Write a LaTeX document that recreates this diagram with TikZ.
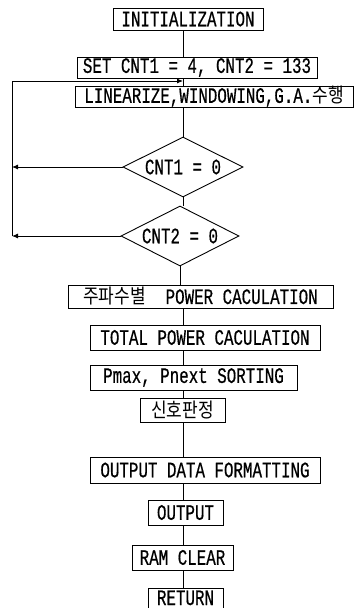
\documentclass[tikz,border=0pt]{standalone}
\usepackage{fontspec}
\setmonofont[FakeStretch=0.72,FakeBold=0.5]{Liberation Mono}
\newfontfamily\krfont[FakeStretch=0.85]{Noto Sans CJK KR}
\newcommand\kr[1]{{\krfont\fontsize{20}{20}\selectfont #1}}
\usetikzlibrary{shapes.geometric,arrows.meta}
\begin{document}
\begin{tikzpicture}[x=1pt,y=-1pt,
  font=\ttfamily\fontsize{22}{22}\selectfont,
  line width=0.9pt,
  pbox/.style={draw, inner sep=0pt, minimum height=#1},
  pbox/.default=24pt,
  dec/.style={draw, diamond, aspect=2, inner sep=0pt, minimum width=120pt, minimum height=60pt},
  arr/.style={-{Latex[length=6pt,width=5pt]}}
]
\useasboundingbox (0,0) rectangle (357,608);
\node[pbox=22pt, minimum width=150pt] (init) at (188,19) {INITIALIZATION};
\node[pbox=21pt, minimum width=240pt] (set) at (197,67.5) {SET CNT1 = 4, CNT2 = 133};
\node[pbox=21pt, minimum width=278pt] (lin) at (214,96.5) {LINEARIZE,WINDOWING,G.A.\kr{수행}};
\node[dec] (d1) at (183,167) {CNT1 = 0};
\node[dec, minimum width=118pt] (d2) at (180,236) {CNT2 = 0};
\node[pbox=23pt, minimum width=265pt] (pow) at (200.5,296.5) {\kr{주파수별}\hspace{0.9em}POWER CACULATION};
\node[pbox=25pt, minimum width=230pt] (tot) at (205,337.5) {TOTAL POWER CACULATION};
\node[pbox=25pt, minimum width=207pt] (pmax) at (193.5,377.5) {Pmax, Pnext SORTING};
\node[pbox=24pt, minimum width=85pt] (sig) at (182.5,410) {\kr{신호판정}};
\node[pbox=26pt, minimum width=230pt] (fmt) at (205,470) {OUTPUT DATA FORMATTING};
\node[pbox=25pt, minimum width=75pt] (out) at (185.5,512.5) {OUTPUT};
\node[pbox=20pt, minimum width=75pt, text depth=0pt, text height=14pt] (ret) at (185.5,598) {RETURN};
\node[pbox=25pt, minimum width=101pt] (ram) at (182.5,557.5) {RAM CLEAR};
\coordinate (sp) at (183,0);
\coordinate (lp) at (12,81);
\coordinate (ent) at (183,81);
\draw (init.south -| sp) -- (set.north -| sp);
\draw (set.south -| sp) -- (lin.north -| sp);
\draw (lin.south -| sp) -- (d1.north);
\draw (d1.south) -- (d2.north -| d1.south);
\draw (d2.south) -- (pow.north -| d2.south);
\draw (pow.south -| sp) -- (tot.north -| sp);
\draw (tot.south -| sp) -- (pmax.north -| sp);
\draw (pmax.south -| sp) -- (sig.north -| sp);
\draw (sig.south -| sp) -- (fmt.north -| sp);
\draw (fmt.south -| sp) -- (out.north -| sp);
\draw (out.south -| sp) -- (ram.north -| sp);
\draw (ram.south -| sp) -- (ret.north -| sp);
\draw[arr] (d1.west) -- (d1.west -| lp);
\draw[arr] (d2.west) -- (d2.west -| lp);
\draw[arr] (d2.west -| lp) -- (lp) -- (ent);
\end{tikzpicture}
\end{document}
